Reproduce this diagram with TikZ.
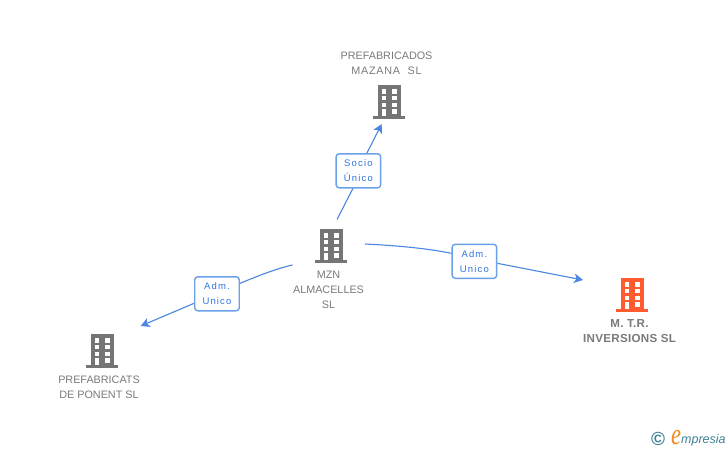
\documentclass[tikz,border=0pt]{standalone}
\usepackage{fontspec}
\setmainfont{Liberation Sans}
\newfontfamily\lblfont[LetterSpace=12]{Liberation Sans}
\newfontfamily\boldfont[LetterSpace=2.5]{Liberation Sans}
\newfontfamily\logofont{Liberation Serif}
\usetikzlibrary{arrows.meta,calc}
\definecolor{linkblue}{HTML}{4A86E0}
\definecolor{boxblue}{HTML}{6AA0E8}
\definecolor{lbltext}{HTML}{2F75E0}
\definecolor{cotext}{HTML}{7A7A7A}
\definecolor{bgray}{HTML}{757575}
\definecolor{borange}{HTML}{FF5B2E}
\definecolor{logoteal}{HTML}{3F8296}
\definecolor{logoorange}{HTML}{F08A1E}
\tikzset{
  x=1pt,y=-1pt,
  bldg/.pic={
    \fill[pic actions] (-11.5,0) rectangle (11.5,33);
    \fill[pic actions] (-16,31) rectangle (16,33.8);
    \foreach \wy in {4.2,10.9,17.6}{
      \fill[white] (-7.5,\wy) rectangle (-2.6,\wy+4.3);
      \fill[white] (2.6,\wy) rectangle (7.5,\wy+4.3);
    }
    \fill[white] (-7.5,24.2) rectangle (-2.6,31);
    \fill[white] (2.6,24.2) rectangle (7.5,28.5);
  },
  company/.style={inner sep=0pt,align=center,text=cotext,font=\fontsize{10.8}{15}\selectfont},
  mainco/.style={inner sep=0pt,align=center,text=cotext,font=\fontsize{11.6}{14.5}\boldfont\bfseries},
  linkbox/.style={draw=boxblue,line width=1.4pt,fill=white,rounded corners=3pt,inner sep=0pt,
    minimum width=44.5pt,minimum height=34pt,align=center,text=lbltext,
    font=\fontsize{9.5}{15}\lblfont},
  link/.style={draw=linkblue,line width=1.1pt},
  tip/.style={-{Stealth[length=9pt,width=9.5pt,inset=2.5pt]}},
}
\begin{document}
\begin{tikzpicture}
\useasboundingbox (0,0) rectangle (728,450);
\fill[white] (0,0) rectangle (728,450);
\coordinate (s1) at (337,219.5);
\coordinate (t1) at (381.7,124);
\coordinate (s2) at (365,244);
\coordinate (t2) at (583,280);
\coordinate (s3) at (292.5,265);
\coordinate (t3) at (140.7,326);
\node[linkbox] (socio) at (358.4,170.8) {Socio\\Único};
\node[linkbox] (admr) at (474.4,261.3) {Adm.\\Unico};
\node[linkbox] (admb) at (217,293.8) {Adm.\\Unico};
\draw[link] (s1) -- ([xshift=-5.5pt]socio.south);
\draw[link,tip] ([xshift=8.5pt]socio.north) -- (t1);
\draw[link] (s2) .. controls (395,245.5) and (425,248) .. ([yshift=8pt]admr.west);
\draw[link,tip] ([yshift=-2pt]admr.east) -- (t2);
\draw[link] (s3) .. controls (275,269) and (258,276) .. ([yshift=10.5pt]admb.east);
\draw[link,tip] ([yshift=-9.5pt]admb.west) -- (t3);
\pic[fill=bgray] at (389,85) {bldg};
\pic[fill=bgray] at (331,229) {bldg};
\pic[fill=borange] at (632,278) {bldg};
\pic[fill=bgray] at (102,334) {bldg};
\node[company] (n1) at (386.5,63.5) {PREFABRICADOS\\\addfontfeature{LetterSpace=7}MAZANA\ \ SL};
\node[company] (n2) at (328.5,290) {MZN\\ALMACELLES\\SL};
\node[mainco] (n3) at (629.5,331) {M. T.R.\\INVERSIONS SL};
\node[company] (n4) at (99,387.5) {PREFABRICATS\\DE PONENT SL};
\node[inner sep=0pt,text=logoteal,font=\fontsize{19}{19}\selectfont\bfseries] (copy) at (658,439) {©};
\node[inner sep=0pt,xscale=0.75,text=logoorange,font=\fontsize{30}{30}\logofont\itshape] (loge) at (676,437.5) {e};
\node[inner sep=0pt,anchor=base west,text=logoteal,font=\fontsize{12.5}{14}\itshape] (logt) at (681,443) {mpresia};
\end{tikzpicture}
\end{document}
